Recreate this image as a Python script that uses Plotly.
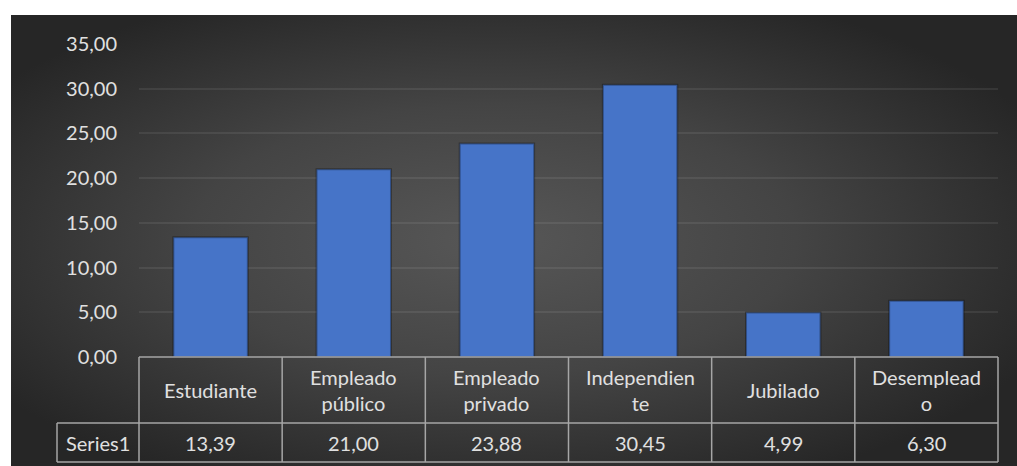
import base64
import plotly.graph_objects as go

# Occupation categories and their share (%)
categories = ["Estudiante", "Empleado público", "Empleado privado",
              "Independiente", "Jubilado", "Desempleado"]
header_labels = ["Estudiante", "Empleado<br>público", "Empleado<br>privado",
                 "Independien<br>te", "Jubilado", "Desemplead<br>o"]
values = [13.39, 21.00, 23.88, 30.45, 4.99, 6.30]
series_name = "Series1"
y_ticks = [0, 5, 10, 15, 20, 25, 30, 35]

W, H = 1017, 466
M_L, M_R, M_T, M_B = 139, 19, 44, 109
PW, PH = W - M_L - M_R, H - M_T - M_B

def px_x(px):
    return (px - M_L) / PW

def px_y(py):
    return (H - M_B - py) / PH

TEXT = "#e0e0e0"
BORDER = "#a6a6a6"
FONT = "Lato"
FS = 20

# Radial dark backdrop for the chart area
svg = (
    '<svg xmlns="http://www.w3.org/2000/svg" width="1006" height="451" '
    'preserveAspectRatio="none" viewBox="0 0 1006 451">'
    '<defs><radialGradient id="g" cx="48%" cy="50%" r="60%">'
    '<stop offset="0%" stop-color="#575757"/>'
    '<stop offset="50%" stop-color="#444444"/>'
    '<stop offset="100%" stop-color="#262626"/>'
    '</radialGradient></defs>'
    '<rect width="1006" height="451" fill="url(#g)"/></svg>'
)
bg_src = "data:image/svg+xml;base64," + base64.b64encode(svg.encode()).decode()

fig = go.Figure()
fig.add_trace(go.Bar(
    x=categories, y=values, name=series_name,
    marker=dict(color="#4674c8", line=dict(color="rgba(0,0,0,0.3)", width=2)),
    hoverinfo="x+y",
))

shapes = []
line = dict(color=BORDER, width=1.5)
n = len(categories)
y_top, y_mid, y_bot = px_y(357), px_y(423), px_y(462)
x_series = px_x(57)
# horizontal table rules
shapes.append(dict(type="line", xref="paper", yref="paper", x0=0, x1=1, y0=y_top, y1=y_top, line=line))
shapes.append(dict(type="line", xref="paper", yref="paper", x0=x_series, x1=1, y0=y_mid, y1=y_mid, line=line))
shapes.append(dict(type="line", xref="paper", yref="paper", x0=x_series, x1=1, y0=y_bot, y1=y_bot, line=line))
# vertical table rules
shapes.append(dict(type="line", xref="paper", yref="paper", x0=x_series, x1=x_series, y0=y_mid, y1=y_bot, line=line))
for i in range(n + 1):
    xv = i / n
    shapes.append(dict(type="line", xref="paper", yref="paper", x0=xv, x1=xv, y0=y_top, y1=y_bot, line=line))

annotations = []
y_head = (y_top + y_mid) / 2
y_val = (y_mid + y_bot) / 2
cell_font = dict(family=FONT, size=FS, color=TEXT)
for cat, lab, v in zip(categories, header_labels, values):
    annotations.append(dict(x=cat, xref="x", y=y_head, yref="paper", text=lab,
                            showarrow=False, font=cell_font,
                            xanchor="center", yanchor="middle"))
    annotations.append(dict(x=cat, xref="x", y=y_val, yref="paper",
                            text=f"{v:.2f}".replace(".", ","),
                            showarrow=False, font=cell_font,
                            xanchor="center", yanchor="middle"))
annotations.append(dict(x=x_series / 2, xref="paper", y=y_val, yref="paper", text=series_name,
                        showarrow=False, font=cell_font,
                        xanchor="center", yanchor="middle"))

fig.update_layout(
    width=W, height=H,
    margin=dict(l=M_L, r=M_R, t=M_T, b=M_B),
    paper_bgcolor="white",
    plot_bgcolor="rgba(0,0,0,0)",
    separators=",.",
    bargap=0.48,
    showlegend=False,
    font=dict(family=FONT, size=FS, color=TEXT),
    shapes=shapes,
    annotations=annotations,
    images=[dict(source=bg_src, xref="paper", yref="paper",
                 x=px_x(11), y=px_y(15), sizex=(W - 11) / PW, sizey=(H - 15) / PH,
                 xanchor="left", yanchor="top", sizing="stretch", layer="below")],
    xaxis=dict(showticklabels=False, showgrid=False, zeroline=False, showline=False,
               range=[-0.5, n - 0.5]),
    yaxis=dict(range=[0, 35], tickvals=y_ticks, tickformat=".2f",
               showgrid=True, gridcolor="rgba(255,255,255,0.075)", gridwidth=1.5,
               zeroline=False, showline=False, ticks="",
               ticklabelstandoff=21,
               tickfont=dict(family=FONT, size=FS, color=TEXT)),
)

fig.write_html("out.html")
